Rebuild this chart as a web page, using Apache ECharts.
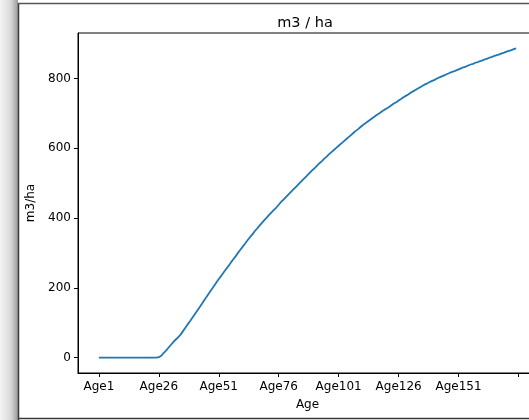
<!DOCTYPE html>
<html>
<head>
<meta charset="utf-8">
<script src="https://cdn.jsdelivr.net/npm/echarts@6/dist/echarts.min.js"></script>
<style>
html, body { margin: 0; padding: 0; background: #fff; }
#chart { width: 529px; height: 420px; }
</style>
</head>
<body>
<div id="chart"></div>
<script>
// m3 per ha by age (Age1 .. Age175)
var volume = [
    0, 0, 0, 0, 0, 0, 0, 0, 0, 0,
    0, 0, 0, 0, 0, 0, 0, 0, 0, 0,
    0, 0, 0, 0, 0, 1, 5, 13, 20, 28,
    36, 44, 51, 58, 65, 75, 85, 95, 104, 114,
    124, 134, 144, 154, 165, 175, 185, 195, 205, 215,
    225, 234, 244, 253, 262, 272, 281, 290, 300, 309,
    318, 327, 336, 345, 353, 362, 370, 378, 386, 394,
    401, 409, 416, 423, 430, 438, 446, 453, 460, 467,
    474, 481, 488, 495, 502, 509, 516, 523, 530, 537,
    543, 550, 557, 563, 570, 576, 583, 589, 595, 601,
    607, 613, 619, 625, 631, 637, 643, 649, 654, 660,
    666, 671, 676, 681, 686, 691, 696, 700, 705, 710,
    714, 718, 723, 728, 732, 737, 741, 746, 750, 754,
    759, 763, 767, 771, 775, 779, 783, 786, 790, 793,
    796, 800, 803, 806, 809, 812, 815, 818, 820, 823,
    826, 829, 832, 834, 837, 840, 842, 845, 847, 850,
    852, 855, 857, 860, 862, 865, 867, 869, 872, 874,
    877, 879, 881, 884, 886
];

var ages = [];
for (var i = 0; i < volume.length; i++) {
    ages.push('Age' + (i + 1));
}

var xTicks = [0, 25, 50, 75, 100, 125, 150, 175];
var yTicks = [0, 200, 400, 600, 800];

var points = [];
for (var j = 0; j < volume.length; j++) {
    points.push([j, volume[j]]);
}

var chart = echarts.init(document.getElementById('chart'), null, {renderer: 'canvas'});

var option = {
    animation: false,
    backgroundColor: '#fff',
    textStyle: {fontFamily: 'DejaVu Sans', color: '#000'},
    title: {
        text: 'm3 / ha',
        left: 300,
        top: 11,
        textAlign: 'center',
        textStyle: {fontFamily: 'DejaVu Sans', fontSize: 14.5, fontWeight: 'normal', color: '#000'}
    },
    graphic: [
        {
            type: 'rect',
            shape: {x: 0, y: 0, width: 18, height: 420},
            style: {
                fill: new echarts.graphic.LinearGradient(0, 0, 1, 0, [
                    {offset: 0, color: '#f4f4f4'},
                    {offset: 0.6, color: '#d8d8d8'},
                    {offset: 1, color: '#9a9a9a'}
                ])
            },
            silent: true
        },
        {type: 'line', shape: {x1: 18.5, y1: 3, x2: 18.5, y2: 420}, style: {stroke: '#3a3a3a', lineWidth: 1.5}, silent: true},
        {type: 'line', shape: {x1: 18, y1: 3.5, x2: 529, y2: 3.5}, style: {stroke: '#555', lineWidth: 1.5}, silent: true},
        {type: 'line', shape: {x1: 18, y1: 418.5, x2: 529, y2: 418.5}, style: {stroke: '#3a3a3a', lineWidth: 1.5}, silent: true}
    ],
    grid: {
        left: 78,
        top: 33,
        width: 459,
        height: 340,
        outerBoundsMode: 'none',
        containLabel: false,
        show: true,
        borderColor: '#000',
        borderWidth: 1,
        backgroundColor: '#fff'
    },
    xAxis: {
        type: 'value',
        min: -8.7,
        max: 182.7,
        name: 'Age',
        nameLocation: 'middle',
        nameGap: 26,
        nameTextStyle: {fontFamily: 'DejaVu Sans', fontSize: 12, color: '#000'},
        axisLine: {show: true, onZero: false, lineStyle: {color: '#000', width: 1}},
        axisTick: {show: true, length: 4, inside: false, customValues: xTicks, lineStyle: {color: '#000'}},
        axisLabel: {
            customValues: xTicks,
            margin: 8,
            fontSize: 12,
            color: '#000',
            fontFamily: 'DejaVu Sans',
            formatter: function (v) {
                return ages[v] || '';
            }
        },
        splitLine: {show: false}
    },
    yAxis: {
        type: 'value',
        min: -44.3,
        max: 930.3,
        name: 'm3/ha',
        nameLocation: 'middle',
        nameRotate: 90,
        nameGap: 31,
        nameTextStyle: {fontFamily: 'DejaVu Sans', fontSize: 12, color: '#000'},
        axisLine: {show: true, onZero: false, lineStyle: {color: '#000', width: 1}},
        axisTick: {show: true, length: 4, inside: false, customValues: yTicks, lineStyle: {color: '#000'}},
        axisLabel: {
            customValues: yTicks,
            margin: 7,
            fontSize: 12,
            color: '#000',
            fontFamily: 'DejaVu Sans'
        },
        splitLine: {show: false}
    },
    series: [
        {
            name: 'm3/ha',
            type: 'line',
            data: points,
            showSymbol: false,
            smooth: false,
            lineStyle: {color: '#1f77b4', width: 1.8},
            itemStyle: {color: '#1f77b4'}
        }
    ]
};

chart.setOption(option);
</script>
</body>
</html>
